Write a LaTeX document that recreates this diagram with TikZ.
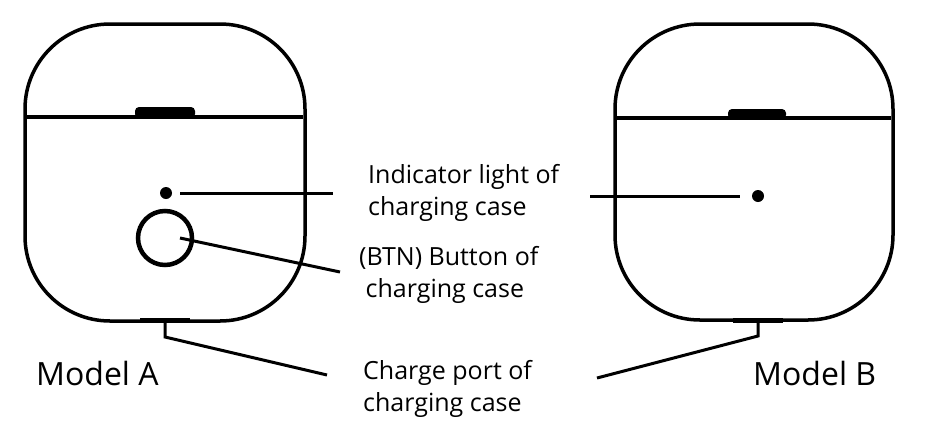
\documentclass[tikz,border=0pt]{standalone}
\usepackage{fontspec}
\setmainfont{Open Sans}
\begin{document}
\begin{tikzpicture}[x=1pt,y=-1pt,
  case/.style={line width=3.5pt,rounded corners=85pt},
  ln/.style={line width=3pt},
  lbl/.style={anchor=west,align=left,font=\fontsize{25}{32}\selectfont,inner sep=0pt},
  mdl/.style={anchor=west,font=\fontsize{32}{36}\selectfont,inner sep=0pt}]
\useasboundingbox (0,0) rectangle (926,426);
% Case A
\draw[case] (25,24) rectangle (305,321);
\draw[line width=3.5pt] (27,117) -- (303,117);
\fill[rounded corners=4pt] (135,118) -- (135,107) -- (195,107) -- (195,118) -- cycle;
\fill (166,193) circle (6);
\draw[line width=4.5pt] (165,238) circle (27);
\fill (140,318) rectangle (190,323);
\coordinate (pA) at (165,321);
% Case B
\draw[case] (615,24) rectangle (893,320);
\draw[line width=3.5pt] (617,118) -- (891,118);
\fill[rounded corners=4pt] (728,119) -- (728,109) -- (786,109) -- (786,119) -- cycle;
\fill (758,196) circle (6);
\fill (733,318) rectangle (783,323);
\coordinate (pB) at (758,321);
% labels
\node[lbl] (ind) at (368,193) {Indicator light of\\charging case};
\node[lbl] (btn) at (359,275) {(BTN) Button of\\\ charging case};
\node[lbl] (chg) at (363,389) {Charge port of\\charging case};
\node[mdl] (ma) at (36,373) {Model A};
\node[mdl] (mb) at (753,373) {Model B};
% connectors
\draw[ln] (180,193) -- (333,193);
\draw[ln] (180,238) -- (340,272);
\draw[ln] (pA) -- (165,337) -- (327,375);
\draw[ln] (590,196) -- (740,196);
\draw[ln] (pB) -- (758,336) -- (597,378);
\end{tikzpicture}
\end{document}
